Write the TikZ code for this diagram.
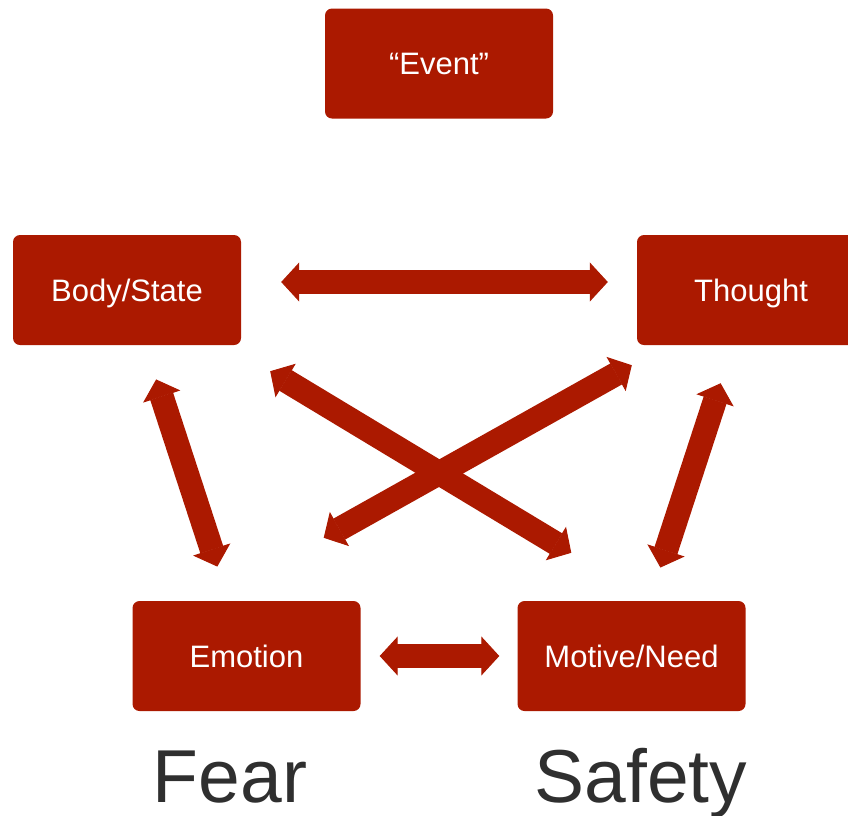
\documentclass[tikz,border=0pt]{standalone}
\usepackage{fontspec}
\setmainfont{Liberation Sans}
\usetikzlibrary{arrows.meta}
\definecolor{boxred}{RGB}{171,25,0}
\definecolor{labelgray}{RGB}{47,47,47}

\begin{document}
\begin{tikzpicture}
    [x=1pt, y=-1pt,
    box/.style={rectangle, rounded corners=7pt, fill=boxred, text=white,
        minimum width=228pt, minimum height=110pt, inner sep=0pt,
        text height=22pt, text depth=0pt,
        font=\fontsize{31}{36}\selectfont},
    both/.style={line width=24pt, draw=boxred,
        {Triangle[length=18pt, width=39pt, line width=1pt]}-{Triangle[length=18pt, width=39pt, line width=1pt]}},
    big/.style={text=labelgray, anchor=base, inner sep=0pt, font=\fontsize{75}{80}\selectfont}]
        \useasboundingbox (0,0) rectangle (848,815);
        \clip (0,0) rectangle (848,815);

        % the five boxes
        \node[box] (event) at (439,63.5) {“Event”};
        \node[box] (body) at (127,290) {Body/State};
        \node[box] (thought) at (751,290) {Thought};
        \node[box] (emotion) at (246.5,656) {Emotion};
        \node[box] (motive) at (631.5,656) {Motive/Need};

        % labels under the bottom row
        \node[big] (fear) at (230,802) {Fear};
        \node[big] (safety) at (641,802) {Safety};

        % two-way arrows
        \draw[both, shorten <=40pt, shorten >=29pt] ([yshift=8pt]body.east) -- ([yshift=8pt]thought.west);
        \draw[both, shorten <=19pt, shorten >=18pt] (emotion) -- (motive);
        \draw[both, shorten <=36pt, shorten >=36pt] (body) -- (emotion);
        \draw[both, shorten <=40pt, shorten >=35pt] (thought) -- (motive);
        % the crossing pair
        \draw[both] ([shift={(29,26)}]body.south east) -- ([shift={(54,-48)}]motive.north west);
        \draw[both] ([shift={(-5,20)}]thought.south west) -- ([shift={(-37,-63)}]emotion.north east);
    \end{tikzpicture}
\end{document}
